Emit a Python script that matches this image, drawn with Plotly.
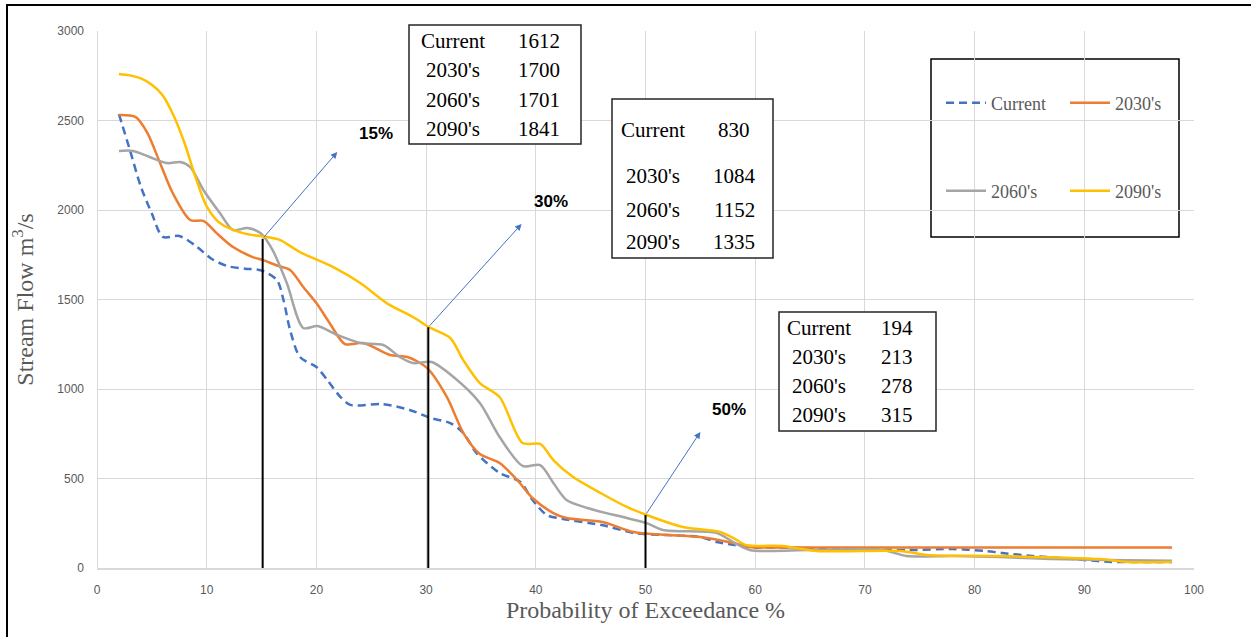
import plotly.graph_objects as go

# ---------------- data ----------------
series_names = ["Current", "2030's", "2060's", "2090's"]

current_x = [2, 3, 4, 5, 6, 7.5, 9, 10.5, 12, 13.5, 15, 16.4, 17, 17.6, 18.5, 20, 21, 22.2, 23.1, 26,
             28.5, 30.4, 32.2, 33.4, 34.6, 36.7, 38.6, 39.7, 41, 42.5, 46, 49, 52, 55, 56.5, 58, 59.5,
             62, 66, 70, 74, 78, 81, 82.5, 85.3, 86.6, 88, 91.2, 92.5, 95, 98]
current_y = [2535, 2335, 2130, 1980, 1850, 1855, 1800, 1725, 1685, 1672, 1662, 1609, 1497, 1330, 1179,
             1123, 1050, 955, 911, 916, 883, 838, 810, 754, 642, 531, 480, 380, 296, 274, 240, 195, 184,
             173, 145, 130, 115, 115, 110, 105, 100, 106, 95, 84, 67, 61, 55, 39, 34, 34, 34]

y2030_x = [2, 3.5, 4.6, 5.75, 6.9, 8.5, 9.7, 10.9, 12.4, 14.2, 15.1, 16.4, 17.6, 18.8, 20, 21.2, 22.6,
           24.3, 26.7, 28.3, 30.1, 31.9, 33.4, 34.9, 36.7, 38.3, 39.7, 41.6, 42.8, 46.1, 48.9, 52.2, 55,
           58, 59.5, 62, 70, 80, 90, 98]
y2030_y = [2531, 2520, 2430, 2262, 2095, 1944, 1939, 1871, 1793, 1737, 1721, 1690, 1665, 1570, 1480,
           1369, 1251, 1257, 1190, 1179, 1117, 955, 754, 637, 587, 492, 391, 307, 279, 257, 201, 184, 173,
           140, 117, 115, 115, 115, 115, 115]

y2060_x = [2, 3.3, 4.8, 6.4, 7.6, 8.5, 9.7, 11.2, 12.4, 13.7, 14.9, 16, 17.3, 18.8, 20.1, 21.9, 24,
           26.1, 27.6, 28.8, 30.5, 32.5, 34.9, 36.7, 38.8, 40.4, 41.6, 42.8, 44.7, 48.3, 50.1, 51.6,
           56.5, 58, 59.5, 65, 71.6, 73.8, 78, 82.3, 86.9, 92, 98]
y2060_y = [2330, 2330, 2296, 2262, 2268, 2240, 2112, 1983, 1888, 1899, 1871, 1777, 1592, 1341, 1352,
           1302, 1257, 1246, 1179, 1145, 1151, 1067, 922, 732, 570, 575, 475, 380, 335, 279, 251, 212,
           195, 145, 101, 100, 101, 67, 67, 61, 50, 45, 40]

y2090_x = [2, 3, 4, 5, 6, 7, 8, 9, 10, 11.2, 13.3, 15.5, 16.7, 18.5, 21.5, 24, 26.4,
           28.8, 30.4, 32.2, 33.4, 34.9, 36.7, 38.8, 40.4, 41.6, 43.4, 45.9, 48.3, 50.1, 53.4, 56.8, 58,
           59.2, 62.5, 65.6, 73.2, 75.7, 82.3, 91.4, 93.9, 98]
y2090_y = [2760, 2752, 2735, 2700, 2640, 2525, 2370, 2180, 2020, 1927, 1871, 1849, 1832, 1765,
           1682, 1592, 1480, 1402, 1341, 1285, 1160, 1033, 955, 698, 693, 603, 508, 419, 341, 296, 229,
           201, 168, 128, 123, 95, 95, 73, 67, 50, 34, 34]

# exceedance marks (vertical lines) and the arrows pointing to the labels
mark_labels = ["15%", "30%", "50%"]
mark_x = [15.1, 30.2, 50]
mark_top = [1840, 1345, 296]
arrow_end_x = [21.9, 38.7, 55.0]
arrow_end_y = [2324, 1922, 760]
label_x = [25.4, 41.4, 57.6]
label_y = [2425, 2045, 883]

# tables
table_names = ["Current", "2030's", "2060's", "2090's"]
flow_15 = [1612, 1700, 1701, 1841]
flow_30 = [830, 1084, 1152, 1335]
flow_50 = [194, 213, 278, 315]

# ---------------- style ----------------
colors = ["#4472C4", "#ED7D31", "#A5A5A5", "#FFC000"]
W, H = 1251, 637
PL, PR, PT, PB = 97, 1194, 31, 568  # plot area in pixels


def px(xp):
    return (xp - PL) / (PR - PL)


def py(yp):
    return (PB - yp) / (PB - PT)


fig = go.Figure()
xs = [current_x, y2030_x, y2060_x, y2090_x]
ys = [current_y, y2030_y, y2060_y, y2090_y]
legend_ids = ["legend", "legend2", "legend3", "legend4"]
for i, name in enumerate(series_names):
    fig.add_trace(go.Scatter(
        x=xs[i], y=ys[i], mode="lines", name=name,
        line=dict(color=colors[i], width=2.5, shape="spline", smoothing=0.8,
                  dash="8px,5px" if i == 0 else "solid"),
        legend=legend_ids[i], showlegend=True,
    ))

# vertical exceedance lines
for xm, ym in zip(mark_x, mark_top):
    fig.add_trace(go.Scatter(x=[xm, xm], y=[0, ym], mode="lines",
                             line=dict(color="black", width=2), showlegend=False,
                             hoverinfo="skip"))

annotations = []
for lab, xm, ym, ex, ey, lx, ly in zip(mark_labels, mark_x, mark_top, arrow_end_x, arrow_end_y,
                                       label_x, label_y):
    annotations.append(dict(x=ex, y=ey, ax=xm, ay=ym, xref="x", yref="y", axref="x", ayref="y",
                            text="", showarrow=True, arrowhead=2, arrowsize=1.3, arrowwidth=1,
                            arrowcolor="#4472C4", standoff=0))
    annotations.append(dict(x=lx, y=ly, xref="x", yref="y", text="<b>" + lab + "</b>",
                            showarrow=False, font=dict(family="Liberation Sans", size=17, color="black")))

shapes = []
# table boxes: (left px, right px, top py, bottom py, label cx, number cx, row ys)
tables = [
    (409, 581, 25, 144, 453, 539, [41, 70, 100, 129], flow_15),
    (612, 773, 99, 258, 653, 734, [130, 176, 210, 242], flow_30),
    (779, 936, 312, 431, 819, 897, [328, 357, 386, 415], flow_50),
]
tfont = dict(family="Liberation Serif", size=21, color="black")
for (l, r, t, b, lcx, ncx, rows, vals) in tables:
    shapes.append(dict(type="rect", xref="paper", yref="paper", x0=px(l), x1=px(r), y0=py(b), y1=py(t),
                       line=dict(color="#262626", width=1.5), fillcolor="white", layer="above"))
    for name, v, ry in zip(table_names, vals, rows):
        annotations.append(dict(x=px(lcx), y=py(ry), xref="paper", yref="paper", text=name,
                                showarrow=False, font=tfont, xanchor="center", yanchor="middle"))
        annotations.append(dict(x=px(ncx), y=py(ry), xref="paper", yref="paper", text=str(v),
                                showarrow=False, font=tfont, xanchor="center", yanchor="middle"))

# legend box
shapes.append(dict(type="rect", xref="paper", yref="paper", x0=px(931), x1=px(1179), y0=py(237),
                   y1=py(59), line=dict(color="black", width=1.5), fillcolor="white", layer="below"))
# outer frame
shapes.append(dict(type="rect", xref="paper", yref="paper", x0=px(7), x1=px(1262), y0=py(650),
                   y1=py(5), line=dict(color="black", width=2), layer="above"))

lfont = dict(family="Liberation Serif", size=18, color="#595959")
leg_pos = [(947, 103), (1071, 103), (947, 191), (1071, 191)]
legends = {}
for lid, (lx, ly) in zip(legend_ids, leg_pos):
    legends[lid] = dict(x=px(lx - 6), y=py(ly), xanchor="left", yanchor="middle",
                        bgcolor="rgba(0,0,0,0)", borderwidth=0, font=lfont, orientation="h",
                        itemwidth=40)

tickfont = dict(family="Liberation Sans", size=12, color="#595959")
fig.update_layout(
    width=W, height=H,
    margin=dict(l=PL, r=W - PR, t=PT, b=H - PB, autoexpand=False),
    paper_bgcolor="white", plot_bgcolor="white",
    shapes=shapes, annotations=annotations,
    xaxis=dict(range=[0, 100], dtick=10, tick0=0, showgrid=True, gridcolor="#D9D9D9", gridwidth=1,
               zeroline=True, zerolinecolor="#D9D9D9", zerolinewidth=1, showline=True,
               linecolor="#D9D9D9", linewidth=2, ticks="", tickfont=tickfont, ticklabelstandoff=10,
               title=dict(text="Probability of Exceedance %", standoff=0,
                          font=dict(family="Liberation Serif", size=24, color="#595959"))),
    yaxis=dict(range=[0, 3000], dtick=500, tick0=0, showgrid=True, gridcolor="#D9D9D9", gridwidth=1,
               zeroline=True, zerolinecolor="#D9D9D9", zerolinewidth=2, showline=False, ticks="",
               tickfont=tickfont, ticklabelstandoff=12,
               title=dict(text="Stream Flow m<sup>3</sup>/s", standoff=16,
                          font=dict(family="Liberation Serif", size=24, color="#595959"))),
    **legends,
)

fig.write_html("out.html", config={"displayModeBar": False},
               post_script="document.body.style.margin='0';document.body.style.overflow='hidden';")
